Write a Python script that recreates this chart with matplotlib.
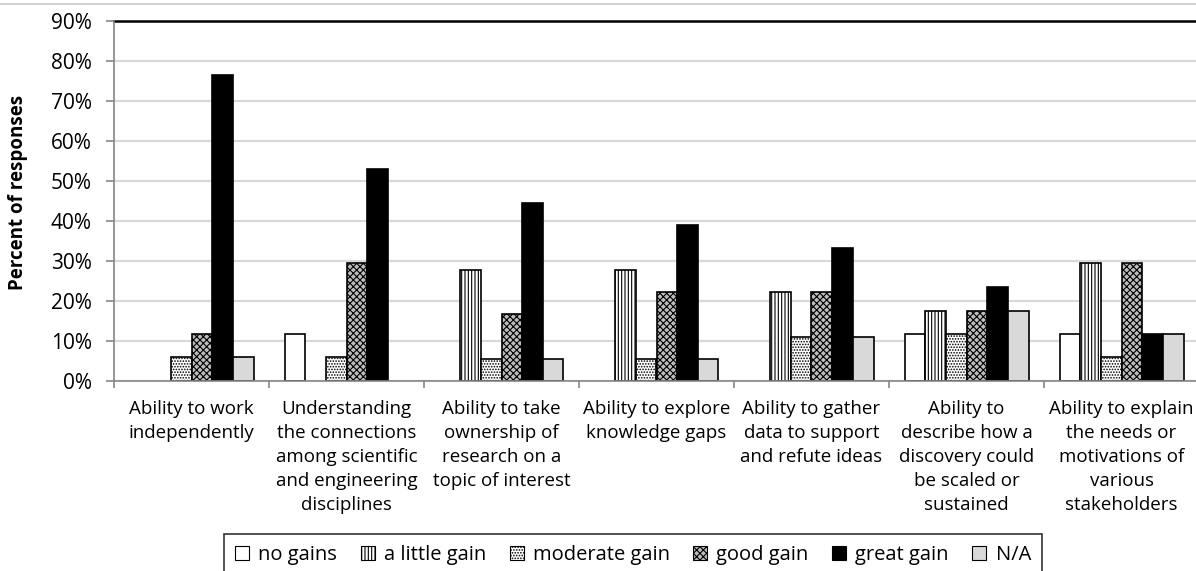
import matplotlib
matplotlib.use("Agg")
import matplotlib.pyplot as plt
from matplotlib.lines import Line2D
from matplotlib.patches import Patch
import numpy as np

plt.rcParams['font.family'] = ['Open Sans', 'DejaVu Sans']
plt.rcParams['hatch.linewidth'] = 0.8

categories = [
    "Ability to work\nindependently",
    "Understanding\nthe connections\namong scientific\nand engineering\ndisciplines",
    "Ability to take\nownership of\nresearch on a\ntopic of interest",
    "Ability to explore\nknowledge gaps",
    "Ability to gather\ndata to support\nand refute ideas",
    "Ability to\ndescribe how a\ndiscovery could\nbe scaled or\nsustained",
    "Ability to explain\nthe needs or\nmotivations of\nvarious\nstakeholders",
]

series_names = ["no gains", "a little gain", "moderate gain", "good gain", "great gain", "N/A"]

no_gains      = [0.0, 11.8, 0.0, 0.0, 0.0, 11.8, 11.8]
a_little_gain = [0.0, 0.0, 27.8, 27.8, 22.2, 17.6, 29.4]
moderate_gain = [5.9, 5.9, 5.6, 5.6, 11.1, 11.8, 5.9]
good_gain     = [11.8, 29.4, 16.7, 22.2, 22.2, 17.6, 29.4]
great_gain    = [76.5, 52.9, 44.4, 38.9, 33.3, 23.5, 11.8]
not_applicable = [5.9, 0.0, 5.6, 5.6, 11.1, 17.6, 11.8]

series_values = [no_gains, a_little_gain, moderate_gain, good_gain, great_gain, not_applicable]

yticks = [0, 10, 20, 30, 40, 50, 60, 70, 80, 90]
ytick_labels = ["0%", "10%", "20%", "30%", "40%", "50%", "60%", "70%", "80%", "90%"]

styles = [
    dict(facecolor="white", hatch=None),
    dict(facecolor="white", hatch="|||||"),
    dict(facecolor="white", hatch="......"),
    dict(facecolor="#bdbdbd", hatch="xxxxx"),
    dict(facecolor="black", hatch=None),
    dict(facecolor="#d9d9d9", hatch=None),
]

W, H = 1196, 571
fig = plt.figure(figsize=(W / 100, H / 100), dpi=100)
ax = fig.add_axes([114 / W, 190 / H, 1085 / W, 360 / H])

n_series = len(series_values)
bar_w = 1 / 7.5
x = np.arange(len(categories))
for i, (vals, st) in enumerate(zip(series_values, styles)):
    offs = (i - (n_series - 1) / 2) * bar_w
    # zero-height bars get no outline so the baseline stays clean
    lws = [1.2 if v > 0 else 0 for v in vals]
    ax.bar(x + offs, vals, width=bar_w, facecolor=st["facecolor"], hatch=st["hatch"],
           edgecolor="black", linewidth=lws, zorder=3)

ax.set_xlim(-0.5, len(categories) - 0.5)
ax.set_ylim(0, 90)
ax.set_yticks(yticks)
ax.set_yticklabels(ytick_labels, fontsize=15)
ax.yaxis.grid(True, color="#d9d9d9", linewidth=1.6, zorder=0)
ax.set_axisbelow(True)

ax.set_xticks(x)
ax.set_xticklabels(categories, fontsize=13.5, linespacing=1.42)
ax.set_xticks(np.arange(-0.5, len(categories) + 0.5, 1), minor=True)
ax.tick_params(axis="x", which="major", length=0, pad=14)
ax.tick_params(axis="x", which="minor", length=5, color="#868686", width=1.2)
ax.tick_params(axis="y", length=6, color="#868686", width=1.2, pad=10, labelcolor="black")

for s in ["left", "bottom"]:
    ax.spines[s].set_color("#868686")
    ax.spines[s].set_linewidth(1.2)
    ax.spines[s].set_zorder(4)
ax.spines["right"].set_visible(False)
ax.spines["top"].set_color("black")
ax.spines["top"].set_linewidth(1.8)

fig.text(18 / W, 1 - 192 / H, "Percent of responses", rotation=90, fontsize=13.5,
         fontweight="bold", ha="center", va="center")

# thin chart-area border line across the top
fig.add_artist(Line2D([0, 1], [1 - 4 / H, 1 - 4 / H], color="#c8c8c8", linewidth=1.2))

handles = [Patch(facecolor=st["facecolor"], hatch=st["hatch"], edgecolor="black", linewidth=0.8)
           for st in styles]


def make_legend(colspace):
    lg = fig.legend(handles, series_names, loc="upper left",
                    bbox_to_anchor=(224 / W, 1 - 534 / H), borderaxespad=0,
                    ncol=6, fontsize=14.5, frameon=True, fancybox=False, handlelength=0.7,
                    handleheight=0.7, handletextpad=0.45, columnspacing=colspace,
                    borderpad=0.55, edgecolor="black")
    lg.get_frame().set_linewidth(1.2)
    return lg


# widen the column gaps so the legend box spans 818 px
renderer = fig.canvas.get_renderer()
leg = make_legend(1.0)
w1 = leg.get_window_extent(renderer).width
leg.remove()
leg = make_legend(2.0)
w2 = leg.get_window_extent(renderer).width
leg.remove()
target = 818
cs = 1.0 + (target - w1) / (w2 - w1)
leg = make_legend(cs)

fig.savefig("out.png", dpi=100)
